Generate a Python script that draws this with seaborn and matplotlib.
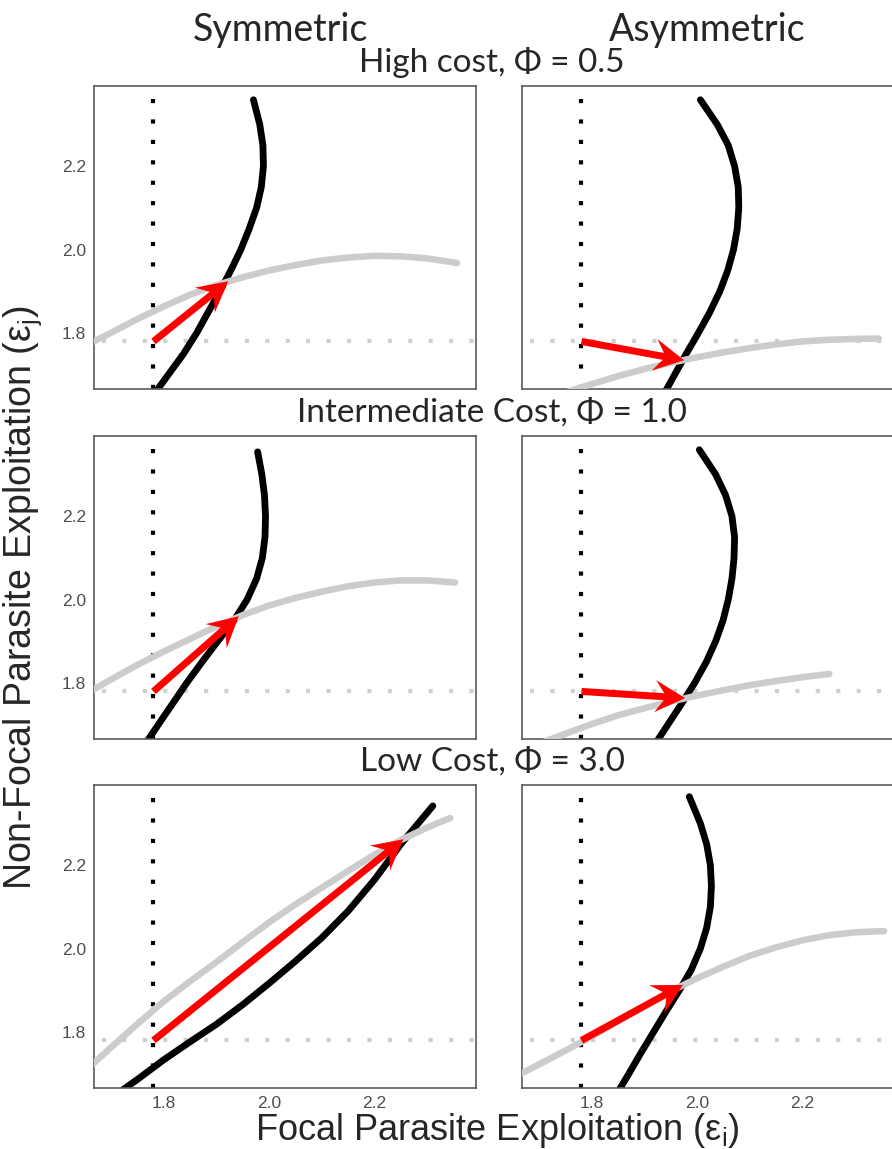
import numpy as np
import pandas as pd
import seaborn as sns
import matplotlib
matplotlib.use("Agg")
import matplotlib.pyplot as plt
from matplotlib.patches import FancyArrow
from matplotlib.transforms import IdentityTransform

# ---------------- data ----------------
col_titles = ["Symmetric", "Asymmetric"]
row_titles = ["High cost, \u03A6 = 0.5", "Intermediate Cost, \u03A6 = 1.0", "Low Cost, \u03A6 = 3.0"]
ticks = [1.8, 2.0, 2.2]
tick_labels = ["1.8", "2.0", "2.2"]
baseline = 1.78  # dotted reference lines (x = 1.78 and y = 1.78)

# High cost, symmetric
blk_y_sym_high = [1.655, 1.70, 1.75, 1.80, 1.85, 1.90, 1.95, 2.00, 2.05, 2.10, 2.15, 2.20, 2.25, 2.30, 2.359]
blk_x_sym_high = [1.782, 1.808, 1.837, 1.862, 1.884, 1.906, 1.927, 1.946, 1.962, 1.976, 1.985, 1.989, 1.988, 1.982, 1.970]
gry_x_sym_high = [1.660, 1.70, 1.75, 1.80, 1.85, 1.90, 1.95, 2.00, 2.05, 2.10, 2.15, 2.20, 2.25, 2.30, 2.357]
gry_y_sym_high = [1.776, 1.801, 1.834, 1.864, 1.892, 1.915, 1.934, 1.950, 1.963, 1.974, 1.981, 1.985, 1.984, 1.979, 1.968]
arr_sym_high = [1.78, 1.78, 1.922, 1.924]

# High cost, asymmetric
blk_y_asym_high = [1.650, 1.70, 1.75, 1.80, 1.85, 1.90, 1.95, 2.00, 2.05, 2.10, 2.15, 2.20, 2.25, 2.30, 2.359]
blk_x_asym_high = [1.935, 1.957, 1.979, 2.002, 2.024, 2.043, 2.058, 2.069, 2.076, 2.079, 2.078, 2.071, 2.059, 2.038, 2.006]
gry_x_asym_high = [1.755, 1.80, 1.85, 1.90, 1.95, 2.00, 2.05, 2.10, 2.15, 2.20, 2.25, 2.30, 2.345]
gry_y_asym_high = [1.660, 1.678, 1.697, 1.714, 1.729, 1.742, 1.754, 1.764, 1.773, 1.780, 1.784, 1.786, 1.787]
arr_asym_high = [1.78, 1.78, 1.975, 1.735]

# Intermediate cost, symmetric
blk_y_sym_mid = [1.655, 1.70, 1.75, 1.80, 1.85, 1.90, 1.95, 2.00, 2.05, 2.10, 2.15, 2.20, 2.25, 2.30, 2.354]
blk_x_sym_mid = [1.765, 1.789, 1.816, 1.843, 1.872, 1.902, 1.933, 1.958, 1.976, 1.987, 1.992, 1.993, 1.991, 1.986, 1.978]
gry_x_sym_mid = [1.660, 1.70, 1.75, 1.80, 1.85, 1.90, 1.95, 2.00, 2.05, 2.10, 2.15, 2.20, 2.25, 2.30, 2.353]
gry_y_sym_mid = [1.780, 1.809, 1.844, 1.876, 1.906, 1.936, 1.963, 1.986, 2.004, 2.019, 2.032, 2.041, 2.046, 2.046, 2.041]
arr_sym_mid = [1.78, 1.78, 1.942, 1.960]

# Intermediate cost, asymmetric
blk_y_asym_mid = [1.650, 1.70, 1.75, 1.80, 1.85, 1.90, 1.95, 2.00, 2.05, 2.10, 2.15, 2.20, 2.25, 2.30, 2.359]
blk_x_asym_mid = [1.918, 1.944, 1.970, 1.995, 2.017, 2.035, 2.049, 2.059, 2.066, 2.070, 2.071, 2.066, 2.054, 2.035, 2.004]
gry_x_asym_mid = [1.700, 1.75, 1.80, 1.85, 1.90, 1.95, 2.00, 2.05, 2.10, 2.15, 2.20, 2.251]
gry_y_asym_mid = [1.655, 1.679, 1.702, 1.723, 1.740, 1.756, 1.770, 1.783, 1.795, 1.805, 1.814, 1.822]
arr_asym_mid = [1.78, 1.78, 1.977, 1.764]

# Low cost, symmetric
blk_x_sym_low = [1.720, 1.75, 1.80, 1.85, 1.90, 1.95, 2.00, 2.05, 2.10, 2.15, 2.20, 2.25, 2.311]
blk_y_sym_low = [1.660, 1.687, 1.734, 1.777, 1.819, 1.866, 1.917, 1.970, 2.026, 2.090, 2.165, 2.250, 2.342]
gry_x_sym_low = [1.660, 1.70, 1.75, 1.80, 1.85, 1.90, 1.95, 2.00, 2.05, 2.10, 2.15, 2.20, 2.25, 2.30, 2.344]
gry_y_sym_low = [1.718, 1.764, 1.820, 1.874, 1.922, 1.968, 2.016, 2.063, 2.106, 2.146, 2.186, 2.225, 2.260, 2.290, 2.313]
arr_sym_low = [1.78, 1.78, 2.255, 2.262]

# Low cost, asymmetric
blk_y_asym_low = [1.660, 1.70, 1.75, 1.80, 1.85, 1.90, 1.95, 2.00, 2.05, 2.10, 2.15, 2.20, 2.25, 2.30, 2.364]
blk_x_asym_low = [1.851, 1.870, 1.893, 1.917, 1.941, 1.966, 1.989, 2.006, 2.018, 2.025, 2.027, 2.025, 2.018, 2.006, 1.985]
gry_x_asym_low = [1.660, 1.70, 1.75, 1.80, 1.85, 1.90, 1.95, 2.00, 2.05, 2.10, 2.15, 2.20, 2.25, 2.30, 2.355]
gry_y_asym_low = [1.697, 1.723, 1.756, 1.790, 1.826, 1.863, 1.898, 1.929, 1.957, 1.983, 2.003, 2.020, 2.032, 2.039, 2.042]
arr_asym_low = [1.78, 1.78, 1.973, 1.913]

panels = [
    [(blk_x_sym_high, blk_y_sym_high, gry_x_sym_high, gry_y_sym_high, arr_sym_high),
     (blk_x_asym_high, blk_y_asym_high, gry_x_asym_high, gry_y_asym_high, arr_asym_high)],
    [(blk_x_sym_mid, blk_y_sym_mid, gry_x_sym_mid, gry_y_sym_mid, arr_sym_mid),
     (blk_x_asym_mid, blk_y_asym_mid, gry_x_asym_mid, gry_y_asym_mid, arr_asym_mid)],
    [(blk_x_sym_low, blk_y_sym_low, gry_x_sym_low, gry_y_sym_low, arr_sym_low),
     (blk_x_asym_low, blk_y_asym_low, gry_x_asym_low, gry_y_asym_low, arr_asym_low)],
]

# ---------------- styling ----------------
sns.set_style("white")
plt.rcParams["font.family"] = ["Liberation Sans", "DejaVu Sans"]
plt.rcParams["mathtext.fontset"] = "custom"
plt.rcParams["mathtext.rm"] = "Liberation Sans"
plt.rcParams["mathtext.it"] = "Liberation Sans:italic"

W, H = 892, 1149
fig = plt.figure(figsize=(W / 100, H / 100), dpi=100)

col_left = [94, 522]
ax_w = 382
row_top = [86, 436, 785]
ax_h = 303

XLIM = (1.667, 2.393)
YLIM = (1.666, 2.392)
spine_col = "#5a5a5a"
tick_col = "#4d4d4d"

for r in range(3):
    for c in range(2):
        bx, by, gx, gy, arr = panels[r][c]
        rect = [col_left[c] / W, 1 - (row_top[r] + ax_h) / H, ax_w / W, ax_h / H]
        ax = fig.add_axes(rect)
        ax.set_xlim(*XLIM)
        ax.set_ylim(*YLIM)
        # reference lines
        ax.axvline(baseline, color="black", lw=3.0, ls=(0, (1.0, 3.9)), zorder=1,
                   dash_capstyle="butt")
        ax.axhline(baseline, color="#cfcfcf", lw=3.0, ls=(3, (1.0, 3.9)), zorder=1,
                   dash_capstyle="butt")
        # curves
        sns.lineplot(x=bx, y=by, sort=False, estimator=None, color="black",
                     lw=4.9, ax=ax, zorder=2)
        sns.lineplot(x=gx, y=gy, sort=False, estimator=None, color="#cccccc",
                     lw=4.7, ax=ax, zorder=3)
        # arrow (positions mapped from data through the axes transform)
        p0 = ax.transData.transform((arr[0], arr[1]))
        p1 = ax.transData.transform((arr[2], arr[3]))
        fa = FancyArrow(p0[0], p0[1], p1[0] - p0[0], p1[1] - p0[1],
                        width=7, head_width=32, head_length=30, overhang=0.3,
                        length_includes_head=True, color="#ff0000", lw=0,
                        transform=IdentityTransform(), zorder=4)
        ax.add_patch(fa)

        ax.set_xticks(ticks)
        ax.set_yticks(ticks)
        for s in ax.spines.values():
            s.set_color(spine_col)
            s.set_linewidth(1.2)
        ax.tick_params(axis="both", colors=spine_col, length=3.5, width=1.0,
                       labelcolor=tick_col, labelsize=12.5, pad=2)
        if c == 0:
            ax.set_yticklabels(tick_labels)
        else:
            ax.tick_params(axis="y", length=0, labelleft=False)
        if r == 2:
            ax.set_xticklabels(tick_labels)
        else:
            ax.tick_params(axis="x", length=0, labelbottom=False)
        ax.set_xlabel("")
        ax.set_ylabel("")

# titles
title_font = ["Lato", "DejaVu Sans"]
fig.text(280 / W, 1 - 30 / H, col_titles[0], ha="center", va="center",
         fontsize=27, family=title_font)
fig.text(707 / W, 1 - 30 / H, col_titles[1], ha="center", va="center",
         fontsize=27, family=title_font)
for r, yy in enumerate([63, 413, 762]):
    fig.text(492 / W, 1 - yy / H, row_titles[r], ha="center", va="center",
             fontsize=24, family=title_font)

fig.text(497 / W, 1 - 1140 / H, r"Focal Parasite Exploitation (ε$_\mathregular{i}$)",
         ha="center", va="baseline", fontsize=26)
fig.text(23 / W, 1 - 598 / H, r"Non-Focal Parasite Exploitation (ε$_\mathregular{j}$)",
         ha="center", va="center", rotation=90, fontsize=27)

fig.savefig("out.png", dpi=100)
